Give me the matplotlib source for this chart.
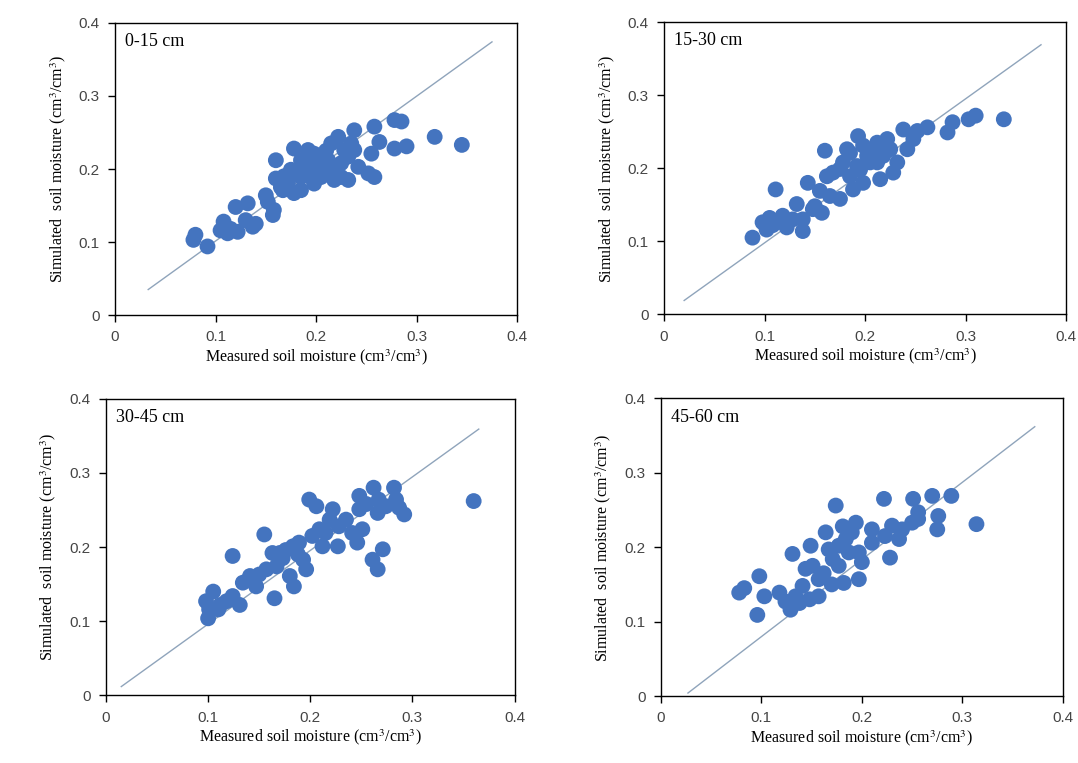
import matplotlib
matplotlib.use("Agg")
from matplotlib import pyplot as plt

plt.rcParams["mathtext.fontset"] = "stix"

# 0-15 cm
x_0_15 = [0.080, 0.078, 0.092, 0.105, 0.108, 0.112, 0.120, 0.132, 0.122, 0.130, 0.137, 0.150,
          0.152, 0.157, 0.158, 0.160, 0.160, 0.167, 0.178, 0.172, 0.182, 0.185, 0.192, 0.198,
          0.202, 0.205, 0.212, 0.218, 0.215, 0.222, 0.225, 0.232, 0.238, 0.235, 0.232, 0.242,
          0.258, 0.255, 0.263, 0.252, 0.258, 0.278, 0.285, 0.278, 0.290, 0.318, 0.345,
          0.185, 0.192, 0.195, 0.205, 0.212, 0.218, 0.198, 0.175, 0.168, 0.228, 0.238, 0.225,
          0.185, 0.178, 0.208, 0.192, 0.115, 0.140, 0.165, 0.200, 0.210]
y_0_15 = [0.110, 0.103, 0.094, 0.116, 0.128, 0.112, 0.148, 0.153, 0.114, 0.130, 0.121, 0.164,
          0.155, 0.137, 0.144, 0.187, 0.212, 0.171, 0.228, 0.180, 0.194, 0.212, 0.221, 0.180,
          0.203, 0.217, 0.194, 0.185, 0.235, 0.244, 0.208, 0.185, 0.253, 0.235, 0.217, 0.203,
          0.258, 0.221, 0.237, 0.194, 0.189, 0.267, 0.265, 0.228, 0.231, 0.244, 0.233,
          0.189, 0.203, 0.189, 0.189, 0.212, 0.203, 0.221, 0.199, 0.190, 0.226, 0.226, 0.189,
          0.171, 0.167, 0.203, 0.226, 0.118, 0.125, 0.175, 0.210, 0.225]

# 15-30 cm
x_15_30 = [0.088, 0.098, 0.102, 0.105, 0.111, 0.112, 0.118, 0.122, 0.132, 0.128, 0.138, 0.138,
           0.143, 0.150, 0.157, 0.155, 0.162, 0.160, 0.165, 0.175, 0.175, 0.182, 0.185, 0.188,
           0.193, 0.198, 0.198, 0.205, 0.212, 0.215, 0.218, 0.222, 0.228, 0.232, 0.238, 0.242,
           0.248, 0.252, 0.262, 0.282, 0.287, 0.303, 0.310, 0.338,
           0.178, 0.192, 0.202, 0.185, 0.225, 0.212, 0.168, 0.148, 0.108, 0.120, 0.195, 0.208]
y_15_30 = [0.105, 0.126, 0.116, 0.132, 0.171, 0.126, 0.135, 0.119, 0.151, 0.130, 0.114, 0.130,
           0.180, 0.148, 0.139, 0.169, 0.189, 0.224, 0.162, 0.158, 0.199, 0.226, 0.189, 0.171,
           0.244, 0.180, 0.231, 0.208, 0.235, 0.185, 0.217, 0.240, 0.194, 0.208, 0.253, 0.226,
           0.240, 0.251, 0.256, 0.249, 0.263, 0.267, 0.272, 0.267,
           0.208, 0.203, 0.217, 0.221, 0.226, 0.208, 0.194, 0.144, 0.122, 0.128, 0.198, 0.222]

# 30-45 cm
x_30_45 = [0.100, 0.101, 0.098, 0.105, 0.110, 0.118, 0.124, 0.124, 0.131, 0.134, 0.144, 0.150,
           0.155, 0.157, 0.165, 0.163, 0.167, 0.173, 0.180, 0.184, 0.183, 0.189, 0.193, 0.196,
           0.199, 0.206, 0.209, 0.212, 0.219, 0.222, 0.227, 0.228, 0.241, 0.246, 0.248, 0.251,
           0.248, 0.261, 0.266, 0.271, 0.262, 0.267, 0.266, 0.274, 0.282, 0.284, 0.292, 0.287,
           0.360, 0.176, 0.202, 0.215, 0.235, 0.141, 0.147, 0.170, 0.112, 0.188, 0.255]
y_30_45 = [0.104, 0.116, 0.127, 0.140, 0.116, 0.127, 0.188, 0.134, 0.122, 0.152, 0.156, 0.163,
           0.217, 0.170, 0.131, 0.192, 0.174, 0.185, 0.161, 0.147, 0.201, 0.206, 0.183, 0.170,
           0.264, 0.255, 0.224, 0.201, 0.237, 0.251, 0.201, 0.228, 0.219, 0.206, 0.251, 0.224,
           0.269, 0.183, 0.170, 0.197, 0.280, 0.264, 0.246, 0.255, 0.280, 0.264, 0.244, 0.253,
           0.262, 0.196, 0.215, 0.219, 0.237, 0.161, 0.147, 0.192, 0.122, 0.190, 0.258]

# 45-60 cm
x_45_60 = [0.078, 0.083, 0.096, 0.098, 0.103, 0.118, 0.124, 0.129, 0.131, 0.134, 0.141, 0.148,
           0.149, 0.151, 0.157, 0.164, 0.167, 0.174, 0.177, 0.181, 0.182, 0.187, 0.190, 0.194,
           0.197, 0.197, 0.210, 0.222, 0.223, 0.228, 0.230, 0.240, 0.250, 0.251, 0.256, 0.256,
           0.270, 0.276, 0.275, 0.289, 0.314,
           0.171, 0.177, 0.184, 0.144, 0.157, 0.210, 0.237, 0.162, 0.170, 0.138, 0.200]
y_45_60 = [0.139, 0.145, 0.109, 0.161, 0.134, 0.139, 0.127, 0.116, 0.191, 0.134, 0.148, 0.130,
           0.202, 0.175, 0.157, 0.220, 0.197, 0.256, 0.175, 0.228, 0.152, 0.193, 0.220, 0.233,
           0.157, 0.193, 0.224, 0.265, 0.215, 0.186, 0.229, 0.224, 0.233, 0.265, 0.247, 0.238,
           0.269, 0.242, 0.224, 0.269, 0.231,
           0.184, 0.202, 0.211, 0.171, 0.134, 0.206, 0.211, 0.165, 0.150, 0.125, 0.180]

labels = ["0-15 cm", "15-30 cm", "30-45 cm", "45-60 cm"]
xs = [x_0_15, x_15_30, x_30_45, x_45_60]
ys = [y_0_15, y_15_30, y_30_45, y_45_60]

# 1:1 line ends for each panel
line_x = [[0.033, 0.375], [0.020, 0.375], [0.015, 0.365], [0.027, 0.372]]
line_y = [[0.035, 0.374], [0.019, 0.369], [0.012, 0.359], [0.004, 0.362]]

ticks = [0, 0.1, 0.2, 0.3, 0.4]
tick_labels = ["0", "0.1", "0.2", "0.3", "0.4"]

# axes boxes in figure fraction
boxes = [[0.1067, 0.587, 0.373, 0.383],
         [0.616, 0.588, 0.373, 0.383],
         [0.0983, 0.0885, 0.379, 0.389],
         [0.613, 0.0878, 0.373, 0.390]]

fig = plt.figure(figsize=(10.78, 7.63), dpi=100)
for i in range(4):
    ax = fig.add_axes(boxes[i])
    ax.plot(line_x[i], line_y[i], color="#8fa4bb", lw=1.0, zorder=1)
    ax.scatter(xs[i], ys[i], s=130, color="#4474bf", edgecolors="none", zorder=2)
    ax.set_xlim(0, 0.4)
    ax.set_ylim(0, 0.4)
    ax.set_xticks(ticks)
    ax.set_yticks(ticks)
    ax.set_xticklabels(tick_labels, family="Liberation Sans", fontsize=11, color="#454545")
    ax.set_yticklabels(tick_labels, family="Liberation Sans", fontsize=11, color="#454545")
    ax.tick_params(direction="out", length=5, width=1, pad=6)
    for sp in ax.spines.values():
        sp.set_linewidth(1.0)
    ax.set_xlabel("Measured soil moisture (cm$^3$/cm$^3$)", family="Liberation Serif",
                  fontsize=11.5, labelpad=2)
    ax.set_ylabel("Simulated  soil moisture (cm$^3$/cm$^3$)", family="Liberation Serif",
                  fontsize=11.5, labelpad=8)
    ax.text(0.025, 0.965, labels[i], transform=ax.transAxes, va="top", ha="left",
            family="Liberation Serif", fontsize=13)

fig.savefig("out.png", dpi=100)
